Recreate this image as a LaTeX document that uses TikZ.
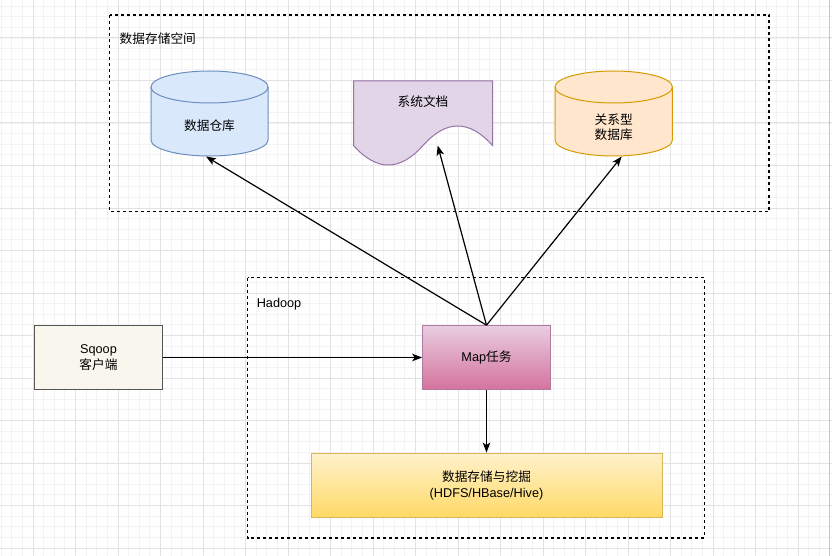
\documentclass[tikz,border=0pt]{standalone}
\usepackage{fontspec}
\setmainfont{Liberation Sans}
\newfontfamily\cjk{Noto Sans CJK SC}
\usetikzlibrary{arrows.meta}
\definecolor{gridmajor}{HTML}{E2E2E2}
\definecolor{gridminor}{HTML}{F3F3F3}
\definecolor{bluefill}{HTML}{DAE8FC}
\definecolor{bluedraw}{HTML}{6C8EBF}
\definecolor{orangefill}{HTML}{FFE6CC}
\definecolor{orangedraw}{HTML}{D79B00}
\definecolor{purplefill}{HTML}{E1D5E7}
\definecolor{purpledraw}{HTML}{9673A6}
\definecolor{sqoopfill}{HTML}{F9F7ED}
\definecolor{sqoopdraw}{HTML}{555555}
\definecolor{maptop}{HTML}{E8CDE0}
\definecolor{mapbottom}{HTML}{D5739D}
\definecolor{mapdraw}{HTML}{B07AA0}
\definecolor{yeltop}{HTML}{FFF2CC}
\definecolor{yelbottom}{HTML}{FFD966}
\definecolor{yeldraw}{HTML}{D6B656}
\tikzset{
  txt/.style={font=\fontsize{12.7}{15.5}\selectfont, align=center, inner sep=0pt},
  boxshape/.style={draw, line width=1pt, inner sep=0pt, txt},
  group/.style={draw=black, line width=1.2pt, dash pattern=on 3pt off 3pt},
  conn/.style={draw=black, line width=1.2pt, -{Stealth[length=10pt,width=7.5pt,inset=2.5pt]}},
  minorline/.style={draw=gridminor, line width=0.8pt},
  majorline/.style={draw=gridmajor, line width=1pt},
}
\begin{document}
\begin{tikzpicture}[x=1pt,y=1pt]
\useasboundingbox (0,0) rectangle (832,-556);
\fill[white] (0,0) rectangle (832,-556);
% grid
\foreach \i in {0,...,78} { \path[minorline] ({1.125+\i*10.625},0) -- ++(0,-556); }
\foreach \j in {0,...,52} { \path[minorline] (0,{-6.125-\j*10.625}) -- ++(832,0); }
\foreach \i in {0,...,18} { \path[majorline] ({33+\i*42.5},0) -- ++(0,-556); }
\foreach \j in {0,...,12} { \path[majorline] (0,{-38-\j*42.5}) -- ++(832,0); }
\path[draw=gray!45, line width=1pt] (829,0) -- (829,-556);

% group boxes
\path[group] (109.5,-15) rectangle (769,-211.5);
\node[txt, anchor=west] (lblstore) at (119.5,-39) {\cjk 数据存储空间};
\path[group] (247.7,-277.5) rectangle (704.4,-538);
\node[txt, anchor=west] (lblhadoop) at (256.6,-304) {Hadoop};

% cylinder 1
\path[fill=bluefill, draw=bluedraw, line width=1pt]
  (151,-87) -- (151,-140) arc[start angle=180, end angle=360, x radius=58.5, y radius=16]
  -- (268,-87) arc[start angle=0, end angle=180, x radius=58.5, y radius=16] -- cycle;
\path[draw=bluedraw, line width=1pt] (151,-87) arc[start angle=180, end angle=360, x radius=58.5, y radius=16];
\node[txt] (dw) at (209.5,-126) {\cjk 数据仓库};
\coordinate (dwb) at (206,-156.5);

% cylinder 3
\path[fill=orangefill, draw=orangedraw, line width=1pt]
  (555,-87) -- (555,-140) arc[start angle=180, end angle=360, x radius=58.7, y radius=16]
  -- (672.4,-87) arc[start angle=0, end angle=180, x radius=58.7, y radius=16] -- cycle;
\path[draw=orangedraw, line width=1pt] (555,-87) arc[start angle=180, end angle=360, x radius=58.7, y radius=16];
\node[txt] (rdb) at (613.7,-127) {\cjk 关系型\\\cjk 数据库};
\coordinate (rdbb) at (621.7,-156.5);

% document
\path[fill=purplefill, draw=purpledraw, line width=1pt]
  (353.5,-81) -- (492.5,-81) -- (492.5,-145.5)
  .. controls (469.33,-119.5) and (446.17,-119.5) .. (423,-145.5)
  .. controls (399.83,-171.5) and (376.67,-171.5) .. (353.5,-145.5) -- cycle;
\node[txt] (doc) at (423,-102) {\cjk 系统文档};
\coordinate (docb) at (437.7,-145.5);

% boxes
\node[boxshape, draw=sqoopdraw, fill=sqoopfill, minimum width=127.7pt, minimum height=63.6pt] (sqoop) at (98.5,-357.5) {Sqoop\\\cjk 客户端};
\node[boxshape, draw=mapdraw, top color=maptop, bottom color=mapbottom, minimum width=127.7pt, minimum height=63.6pt] (map) at (486.5,-357.5) {Map{\cjk 任务}};
\node[boxshape, draw=yeldraw, top color=yeltop, bottom color=yelbottom, minimum width=351pt, minimum height=64.3pt] (store) at (486.5,-485.2) {\cjk 数据存储与挖掘\\(HDFS/HBase/Hive)};

% connectors
\path[conn] (map.north) -- (dwb);
\path[conn] (map.north) -- (docb);
\path[conn] (map.north) -- (rdbb);
\path[conn] (sqoop.east) -- (map.west);
\path[conn] (map.south) -- (store.north);
\end{tikzpicture}
\end{document}
